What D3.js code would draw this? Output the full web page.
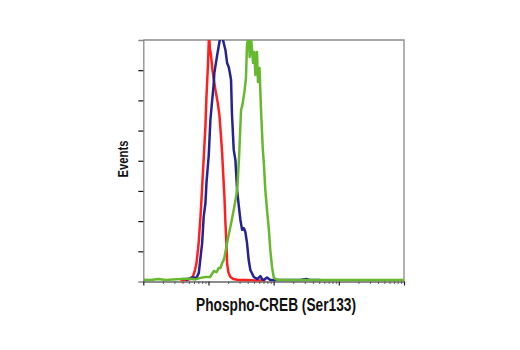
<!DOCTYPE html>
<html>
<head>
<meta charset="utf-8">
<script src="https://cdn.jsdelivr.net/npm/d3@7"></script>
<style>
  html, body { margin: 0; padding: 0; background: #fff; }
  svg { display: block; }
</style>
</head>
<body>
<svg id="chart" width="520" height="350"></svg>
<script>
// Flow cytometry histograms: fluorescence intensity (log) vs. event count
const redIntensity = [3.7, 4.44, 5.3, 5.79, 6.21, 6.55, 7.03, 7.54, 7.95, 8.47, 8.99, 9.31, 9.82, 10.2, 10.5, 11.0, 11.5, 12.1, 12.8, 13.9, 14.7, 15.3, 16.1, 16.8, 17.6, 18.2, 18.9, 19.3, 20.2, 21.7, 24.1, 28.8, 36.9, 52.5, 74.6];
const redCounts    = [0.5, 0.5, 0.8, 1.8, 3.8, 6.1, 12.1, 21.4, 30.3, 41.2, 51.8, 61.1, 71.7, 82, 77.4, 74.4, 70.1, 66.8, 63.4, 59.1, 55.2, 50.2, 43.6, 35.9, 27.7, 19.4, 12.1, 6.1, 3.1, 1.5, 0.8, 0.5, 0.5, 0.3, 0.3];

const blueIntensity = [4.5, 5.3, 5.89, 6.55, 7.1, 7.54, 8.0, 8.44, 8.99, 9.31, 10.1, 10.7, 11.4, 12.0, 12.3, 13.6, 14.9, 15.8, 16.7, 18.2, 19.3, 20.5, 21.3, 22.2, 22.9, 24.4, 25.9, 27.5, 29.1, 30.9, 32.8, 34.8, 36.8, 39.0, 41.4, 43.9, 49.6, 56.0, 62.6, 66.5, 70.4, 79.1, 88.8, 106, 256, 315, 363, 520];
const blueCounts    = [0.5, 1.2, 1.3, 1.2, 2.8, 7.8, 12.8, 21.4, 26.0, 32.6, 41.9, 53.5, 60.1, 65.1, 69.1, 75.0, 80.0, 81, 80.0, 76.7, 72.4, 71.0, 69.1, 66.8, 55.8, 43.6, 40.2, 30.3, 25.3, 20.4, 17.1, 17.7, 16.4, 12.8, 7.1, 3.8, 1.5, 0.8, 1.8, 0.8, 0.5, 1.3, 0.5, 0.5, 0.5, 0.8, 0.5, 0.5];

const greenIntensity = [1.0, 1.29, 1.72, 2.2, 2.81, 3.72, 4.94, 6.32, 7.54, 8.99, 10.6, 12.1, 13.3, 14.4, 15.3, 16.2, 17.1, 17.6, 19.3, 21.7, 24.4, 26.8, 27.9, 29.6, 31.6, 33.2, 35.6, 37.6, 39.0, 41.4, 42.9, 45.1, 48.3, 50.6, 52.5, 55.5, 57.5, 60.7, 64.0, 68.2, 70.5, 74.5, 79.1, 84.5, 88.8, 94.8, 100, 107, 118, 181, 519, 2130, 10000];
const greenCounts    = [0.6, 0.5, 0.8, 0.5, 0.7, 0.8, 1.0, 0.7, 1.2, 1.5, 1.5, 3.5, 3.1, 4.5, 4.5, 6.1, 7.1, 8.1, 12.8, 18.1, 23.7, 28.7, 32.0, 41.9, 56.8, 58.5, 62.8, 67.4, 78.4, 81.3, 74.4, 80.7, 72.4, 76.0, 68.4, 76.0, 66.1, 70.7, 56.8, 43.6, 39.7, 30.3, 23.7, 17.1, 10.4, 4.5, 1.5, 0.8, 0.5, 0.5, 0.5, 0.5, 0.5];

const yTickValues = [10, 20, 30, 40, 50, 60, 70];
const xTitle = "Phospho-CREB (Ser133)";
const yTitle = "Events";

const series = [
  { name: "red",   x: redIntensity,   y: redCounts,   color: "#ff1f1f" },
  { name: "blue",  x: blueIntensity,  y: blueCounts,  color: "#25238f" },
  { name: "green", x: greenIntensity, y: greenCounts, color: "#66b82e" }
];

const svg = d3.select("#chart");
const m = { left: 143.3, right: 404, top: 40, bottom: 281.5 };

const x = d3.scaleLog().domain([1, 10000]).range([m.left, m.right]);
const y = d3.scaleLinear().domain([0, 80]).range([m.bottom, m.top]);

svg.append("defs").append("clipPath").attr("id", "plot-clip")
  .append("rect")
  .attr("x", m.left).attr("y", m.top)
  .attr("width", m.right - m.left).attr("height", m.bottom - m.top);

// frame (top and right edges)
svg.append("path")
  .attr("d", `M${m.left},${m.top}H${m.right}V${m.bottom}`)
  .attr("fill", "none").attr("stroke", "#8a8a8a").attr("stroke-width", 1.3);

// y axis: unlabelled ticks pointing left
const yAxis = d3.axisLeft(y).tickValues(yTickValues).tickSize(5).tickFormat("");
const gy = svg.append("g").attr("transform", `translate(${m.left},0)`).call(yAxis);
gy.select(".domain").attr("stroke", "#8a8a8a").attr("stroke-width", 1.3);
gy.selectAll(".tick line").attr("stroke", "#111").attr("stroke-width", 1.2);

// x axis: log decades with minor ticks
const majors = [1, 10, 100, 1000, 10000];
const minors = [];
for (let d = 1; d < 10000; d *= 10) for (let k = 2; k <= 9; k++) minors.push(d * k);

const gxMinor = svg.append("g").attr("transform", `translate(0,${m.bottom})`)
  .call(d3.axisBottom(x).tickValues(minors).tickSize(2.2).tickFormat(""));
gxMinor.select(".domain").remove();
gxMinor.selectAll(".tick line").attr("stroke", "#222").attr("stroke-width", 1);

const gx = svg.append("g").attr("transform", `translate(0,${m.bottom})`)
  .call(d3.axisBottom(x).tickValues(majors).tickSize(4).tickSizeOuter(0).tickFormat(""));
gx.select(".domain").attr("stroke", "#666").attr("stroke-width", 1.3);
gx.selectAll(".tick line").attr("stroke", "#222").attr("stroke-width", 1.2);

// histogram outlines
const line = d3.line()
  .x(d => x(d[0]))
  .y(d => y(d[1]))
  .curve(d3.curveLinear);

const plot = svg.append("g").attr("clip-path", "url(#plot-clip)");
series.forEach(s => {
  plot.append("path")
    .datum(s.x.map((v, i) => [v, s.y[i]]))
    .attr("fill", "none")
    .attr("stroke", s.color)
    .attr("stroke-width", 2.5)
    .attr("stroke-linejoin", "round")
    .attr("d", line);
});

// axis titles
svg.append("text")
  .attr("x", 276).attr("y", 310.5)
  .attr("text-anchor", "middle")
  .attr("font-family", "'Liberation Sans', Arial, sans-serif")
  .attr("font-weight", "bold")
  .attr("font-size", 18)
  .attr("textLength", 160)
  .attr("lengthAdjust", "spacingAndGlyphs")
  .attr("fill", "#111")
  .text(xTitle);

svg.append("text")
  .attr("transform", "translate(128,159) rotate(-90)")
  .attr("text-anchor", "middle")
  .attr("font-family", "'Liberation Sans', Arial, sans-serif")
  .attr("font-weight", "bold")
  .attr("font-size", 15.5)
  .attr("textLength", 37)
  .attr("lengthAdjust", "spacingAndGlyphs")
  .attr("fill", "#111")
  .text(yTitle);
</script>
</body>
</html>
